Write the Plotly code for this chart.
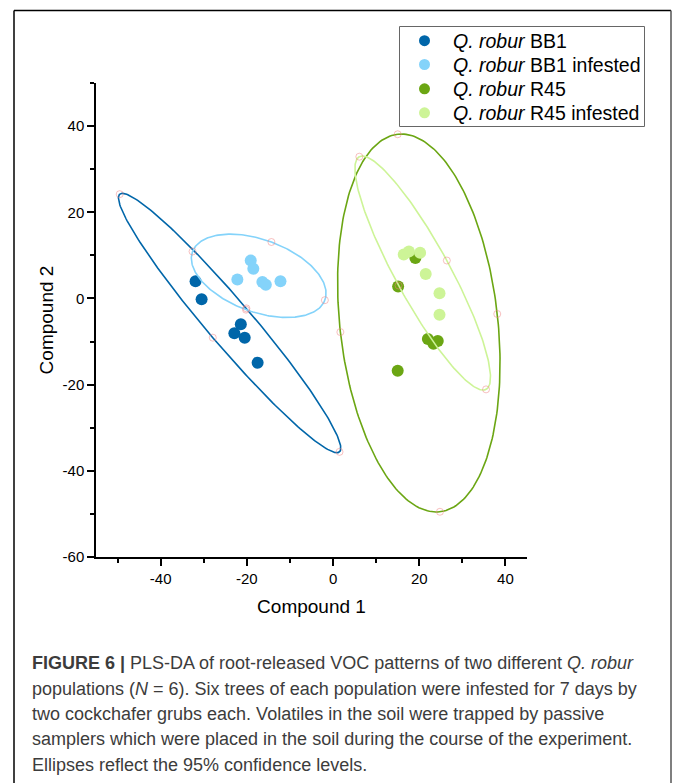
import numpy as np
import plotly.graph_objects as go

# ---------------- data ----------------
legend_names = ["<i>Q. robur</i> BB1", "<i>Q. robur</i> BB1 infested",
                "<i>Q. robur</i> R45", "<i>Q. robur</i> R45 infested"]
colors = ["#0066A9", "#84D3FA", "#6BA613", "#CDF497"]

bb1_x = [-31.9, -30.5, -21.4, -22.9, -20.5, -17.5]
bb1_y = [4.0, -0.2, -6.0, -8.1, -9.1, -14.9]
bb1i_x = [-19.1, -18.5, -22.2, -16.4, -15.6, -12.2]
bb1i_y = [8.8, 6.9, 4.4, 3.8, 3.2, 4.0]
r45_x = [19.1, 15.1, 22.0, 24.3, 23.3, 15.0]
r45_y = [9.4, 2.8, -9.4, -9.9, -10.5, -16.8]
r45i_x = [16.4, 17.6, 20.2, 21.5, 24.7, 24.7]
r45i_y = [10.2, 10.9, 10.6, 5.7, 1.2, -3.8]

# 95% confidence ellipses: centre and ends of the two semi-axes
ell_center_x = [-24.0, -17.25, 19.9, 20.8]
ell_center_y = [-5.7, 5.25, -5.7, 5.9]
ell_major_end_x = [-49.5, -32.6, 15.0, 6.1]
ell_major_end_y = [24.2, 10.9, 38.1, 32.9]
ell_minor_end_x = [-20.1, -14.3, 38.1, 26.4]
ell_minor_end_y = [-2.3, 13.1, -3.6, 8.8]

x_tickvals = [-40, -20, 0, 20, 40]
x_ticktext = ["-40", "-20", "0", "20", "40"]
y_tickvals = [-60, -40, -20, 0, 20, 40]
y_ticktext = ["-60", "-40", "-20", "0", "20", "40"]
x_range = [-55, 45]
y_range = [-60, 50]

caption_lines = [
    "<b>FIGURE 6 |</b> PLS-DA of root-released VOC patterns of two different <i>Q. robur</i>",
    "populations (<i>N</i> = 6). Six trees of each population were infested for 7 days by",
    "two cockchafer grubs each. Volatiles in the soil were trapped by passive",
    "samplers which were placed in the soil during the course of the experiment.",
    "Ellipses reflect the 95% confidence levels.",
]

# ---------------- layout helpers ----------------
W, H = 674, 783
L, R, T, B = 96, 147, 83, 226
PW, PH = W - L - R, H - T - B


def px(xp):
    return (xp - L) / PW


def py(yp):
    return (H - B - yp) / PH


FONT = "Liberation Sans, Arial, sans-serif"

fig = go.Figure()

points = [(bb1_x, bb1_y), (bb1i_x, bb1i_y), (r45_x, r45_y), (r45i_x, r45i_y)]
for (xs, ys), name, col in zip(points, legend_names, colors):
    fig.add_trace(go.Scatter(
        x=xs, y=ys, mode="markers", name=name, showlegend=False,
        marker=dict(size=12, color=col, line=dict(width=0)),
    ))

t = np.linspace(0, 2 * np.pi, 241)
hx, hy = [], []
for i, col in enumerate(colors):
    cx, cy = ell_center_x[i], ell_center_y[i]
    ax_, ay_ = ell_major_end_x[i] - cx, ell_major_end_y[i] - cy
    bx_, by_ = ell_minor_end_x[i] - cx, ell_minor_end_y[i] - cy
    ex = cx + ax_ * np.cos(t) + bx_ * np.sin(t)
    ey = cy + ay_ * np.cos(t) + by_ * np.sin(t)
    fig.add_trace(go.Scatter(x=ex, y=ey, mode="lines", showlegend=False,
                             line=dict(color=col, width=1.6), hoverinfo="skip"))
    hx += [cx + ax_, cx - ax_, cx + bx_, cx - bx_]
    hy += [cy + ay_, cy - ay_, cy + by_, cy - by_]

fig.add_trace(go.Scatter(x=hx, y=hy, mode="markers", showlegend=False,
                         marker=dict(symbol="circle-open", size=7,
                                     color="rgba(240,130,130,0.5)",
                                     line=dict(width=1)),
                         hoverinfo="skip"))

axis_common = dict(showline=True, linecolor="black", linewidth=1.5,
                   ticks="outside", ticklen=7, tickwidth=1.5, tickcolor="black",
                   showgrid=False, zeroline=False,
                   tickfont=dict(family=FONT, size=15, color="black"),
                   minor=dict(ticks="outside", ticklen=4, tickwidth=1.5,
                              tickcolor="black", dtick=10, showgrid=False))

fig.update_xaxes(range=x_range, tickmode="array", tickvals=x_tickvals, ticktext=x_ticktext,
                 title=dict(text="Compound 1", font=dict(family=FONT, size=19, color="black"),
                            standoff=14),
                 **axis_common)
fig.update_yaxes(range=y_range, tickmode="array", tickvals=y_tickvals, ticktext=y_ticktext,
                 title=dict(text="Compound 2", font=dict(family=FONT, size=19, color="black"),
                            standoff=4),
                 **axis_common)

shapes = [
    # outer frame
    dict(type="line", xref="paper", yref="paper", x0=px(14), x1=px(14), y0=py(10.5), y1=py(800),
         line=dict(color="black", width=1.5)),
    dict(type="line", xref="paper", yref="paper", x0=px(14), x1=px(671), y0=py(10.5), y1=py(10.5),
         line=dict(color="black", width=1.5)),
    dict(type="line", xref="paper", yref="paper", x0=px(671), x1=px(671), y0=py(10.5), y1=py(800),
         line=dict(color="#555", width=1.5)),
    # legend box
    dict(type="rect", xref="paper", yref="paper", x0=px(399.5), x1=px(644.5), y0=py(126.5),
         y1=py(26.5), line=dict(color="#666", width=1)),
]

annotations = []
# legend entries (marker + label)
legend_y = [40.7, 64.5, 88.8, 112.8]
for name, col, ly in zip(legend_names, colors, legend_y):
    shapes.append(dict(type="circle", xref="paper", yref="paper",
                       xsizemode="pixel", ysizemode="pixel",
                       xanchor=px(424.5), yanchor=py(ly),
                       x0=-5.5, x1=5.5, y0=-5.5, y1=5.5,
                       fillcolor=col, line=dict(width=0)))
    annotations.append(dict(text=name, xref="paper", yref="paper", x=px(450.5), y=py(ly),
                            xanchor="left", yanchor="middle", showarrow=False,
                            font=dict(family=FONT, size=19.5, color="black")))

line_y = [663, 689, 714, 739, 765]
for txt, yy in zip(caption_lines, line_y):
    annotations.append(dict(text=txt, xref="paper", yref="paper", x=px(30), y=py(yy),
                            xanchor="left", yanchor="middle", showarrow=False,
                            font=dict(family=FONT, size=18, color="#3c3c3c")))

fig.update_layout(
    width=W, height=H,
    margin=dict(l=L, r=R, t=T, b=B, pad=0),
    paper_bgcolor="white", plot_bgcolor="white",
    showlegend=False,
    shapes=shapes, annotations=annotations,
)

fig.write_html("out.html")
